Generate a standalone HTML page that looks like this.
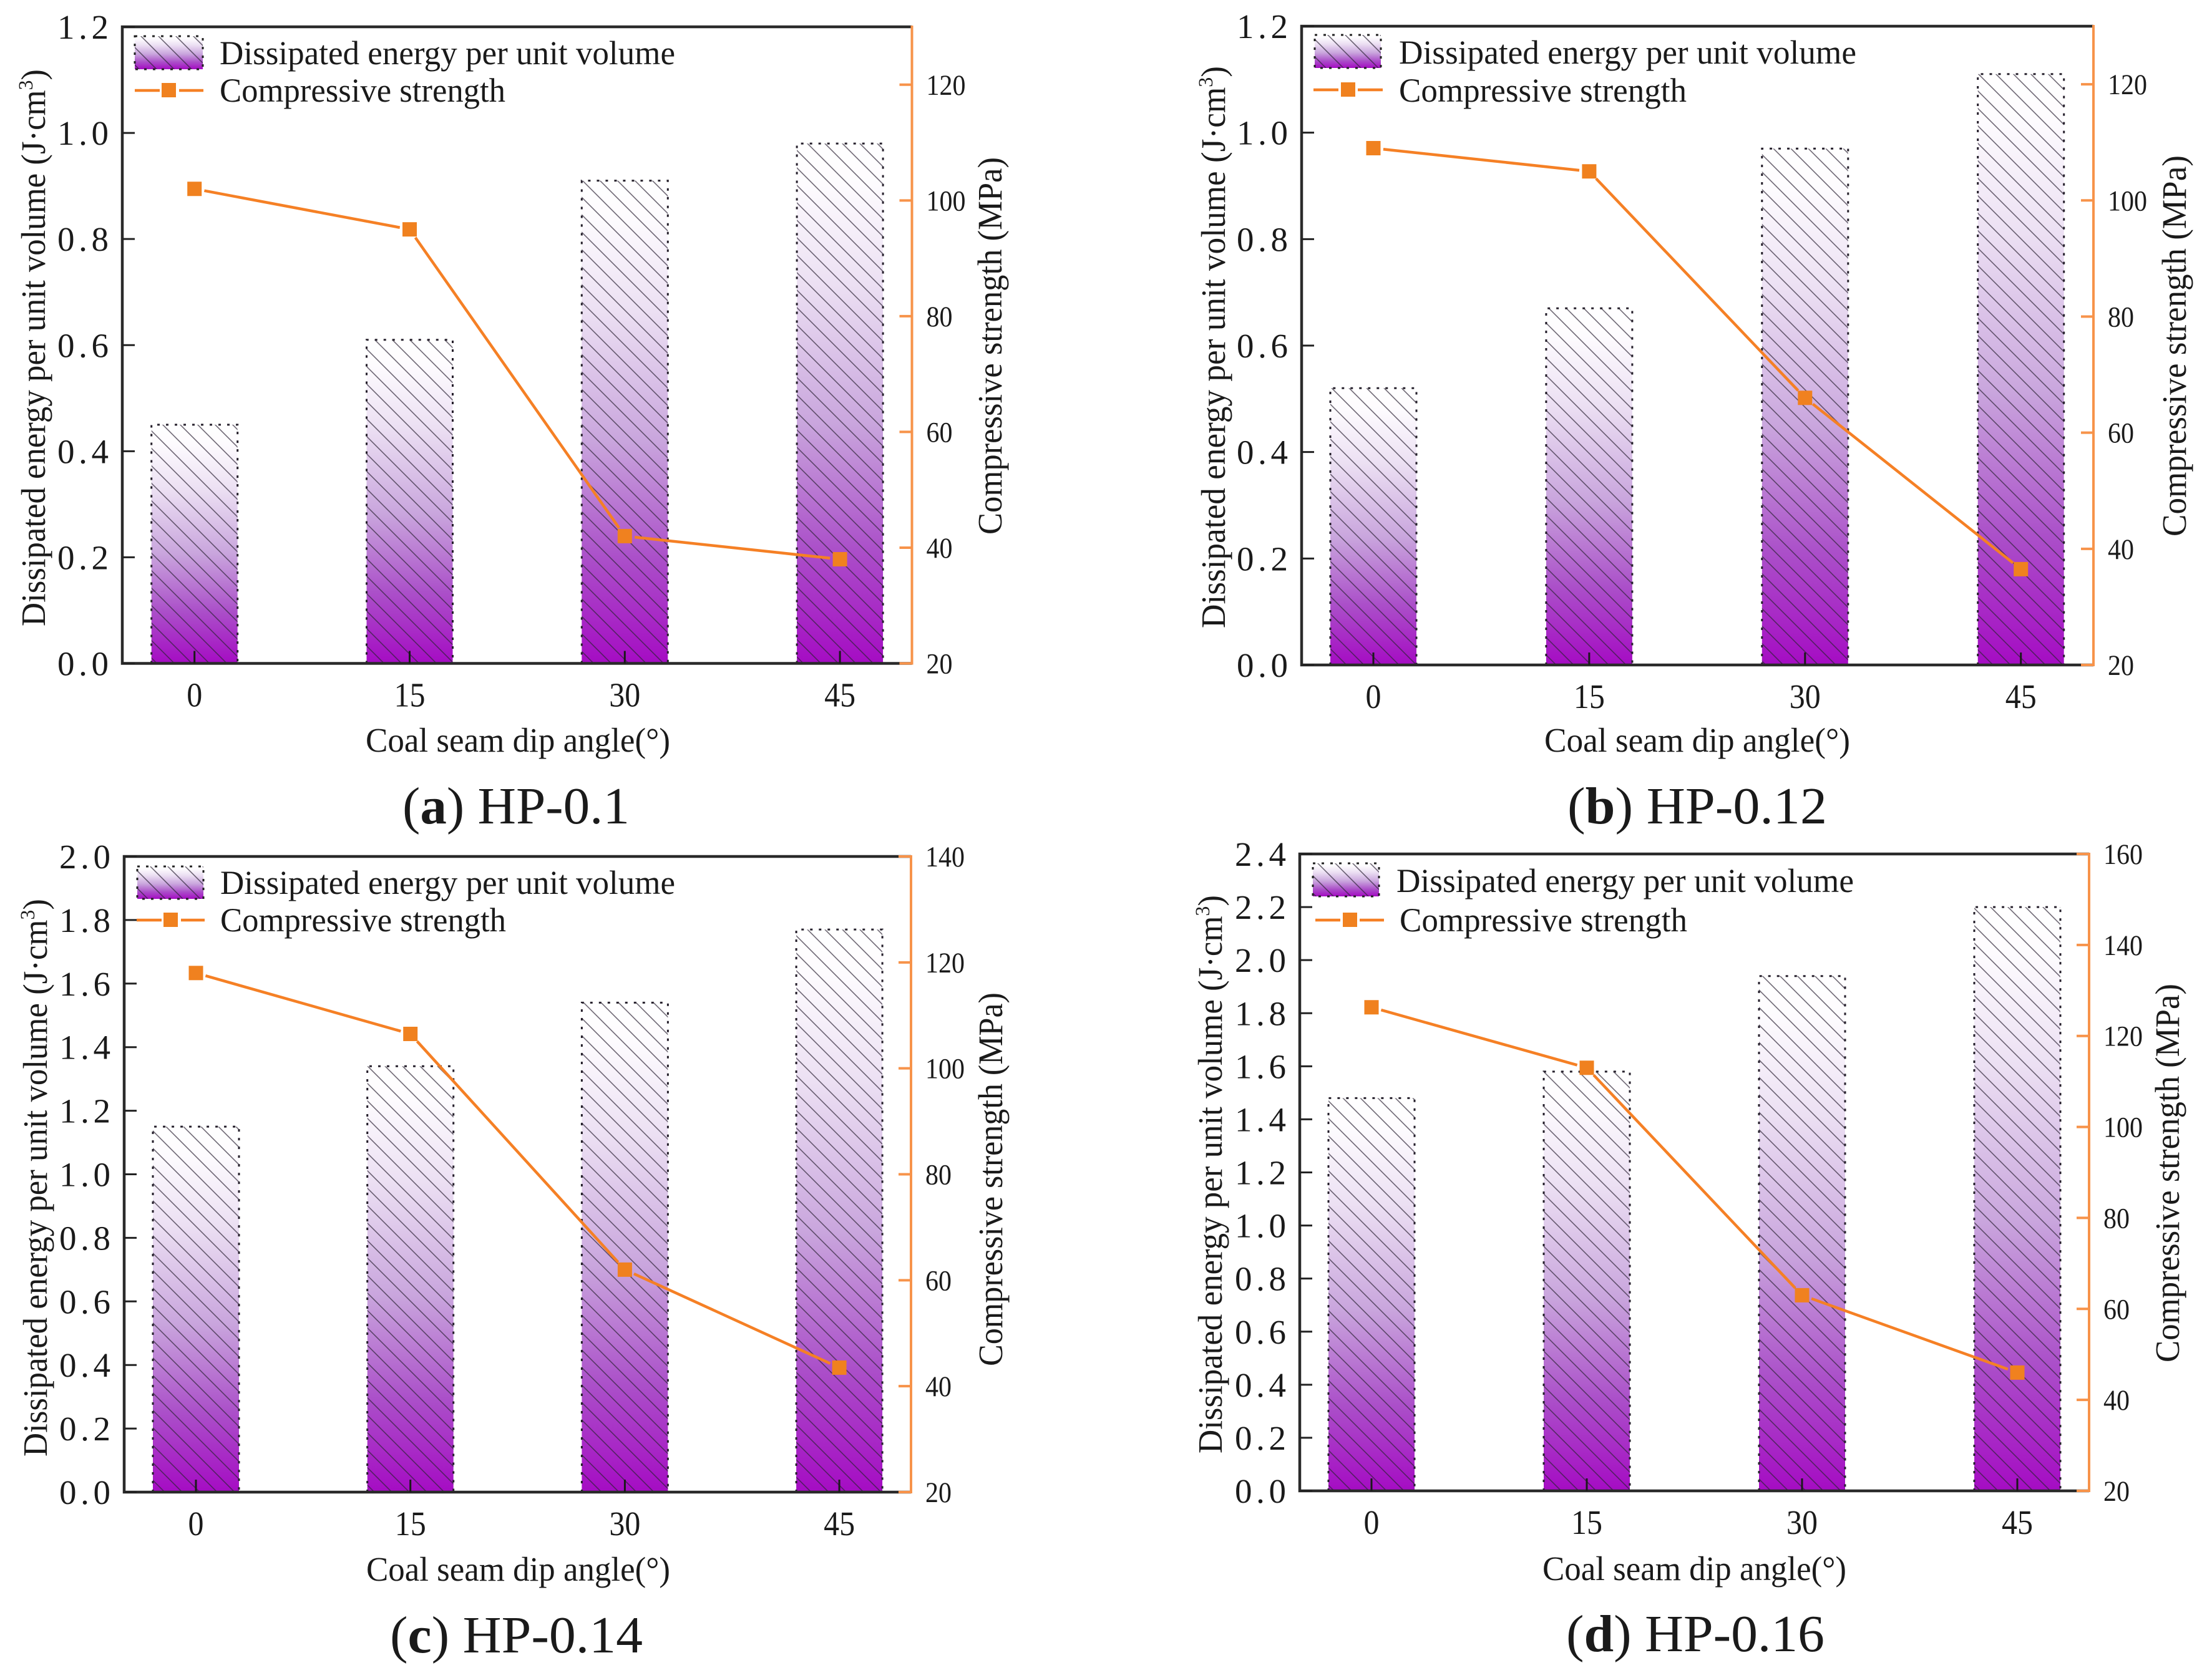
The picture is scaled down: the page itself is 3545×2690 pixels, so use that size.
<!DOCTYPE html>
<html lang="en">
<head>
<meta charset="utf-8">
<title>Dissipated energy and compressive strength vs coal seam dip angle</title>
<style>
html,body{margin:0;padding:0;background:#fff;}
svg{display:block;}
text{font-family:"Liberation Serif","Noto Serif CJK SC",serif;fill:#1a1a1a;}
</style>
</head>
<body>
<svg id="figure" xmlns="http://www.w3.org/2000/svg" width="3545" height="2690" viewBox="0 0 3545 2690">
<defs>
<linearGradient id="barFade" x1="0" y1="1" x2="0" y2="0">
<stop offset="0" stop-color="#a50cc3"/>
<stop offset="0.22" stop-color="#ab50c9"/>
<stop offset="0.46" stop-color="#c9a5dd"/>
<stop offset="0.73" stop-color="#ece0f3"/>
<stop offset="0.92" stop-color="#fdfbfe"/>
<stop offset="1" stop-color="#ffffff"/>
</linearGradient>
<pattern id="hatch" patternUnits="userSpaceOnUse" width="28" height="28">
<path d="M-7 -7 L35 35 M-7 21 L7 35 M21 -7 L35 7" stroke="#2b2233" stroke-opacity="0.68" stroke-width="1.6" fill="none"/>
</pattern>
</defs>
<rect width="3545" height="2690" fill="#ffffff"/>

<g id="panel-a">
<g class="marks"></g>
<g>
<rect x="216" y="58" width="109" height="53" fill="url(#barFade)"/>
<rect x="216" y="58" width="109" height="53" fill="url(#hatch)" stroke="#222" stroke-width="3" stroke-dasharray="4 10"/>
<path d="M216 145H256M287 145H326" stroke="#f58025" stroke-width="4.5" fill="none"/>
<rect x="259" y="133" width="23" height="23" fill="#f0811f"/>
<text x="352" y="103" font-size="54" textLength="730" lengthAdjust="spacingAndGlyphs">Dissipated energy per unit volume</text>
<text x="352" y="163" font-size="54" textLength="458" lengthAdjust="spacingAndGlyphs">Compressive strength</text>
</g>
<text transform="translate(72 1004) rotate(-90)" font-size="55" textLength="893" lengthAdjust="spacingAndGlyphs">Dissipated energy per unit volume (J·cm<tspan dy="-20" font-size="33">3</tspan><tspan dy="20">)</tspan></text>
<text transform="translate(1605 857) rotate(-90)" font-size="55" textLength="605" lengthAdjust="spacingAndGlyphs">Compressive strength (MPa)</text>
<text x="586" y="1205" font-size="55" textLength="488" lengthAdjust="spacingAndGlyphs">Coal seam dip angle(°)</text>
<text x="645" y="1320" font-size="84" textLength="364" lengthAdjust="spacingAndGlyphs">(<tspan font-weight="bold">a</tspan>) HP-0.1</text>
</g>

<g id="panel-b">
<g class="marks"></g>
<g>
<rect x="2107" y="56" width="106" height="53" fill="url(#barFade)"/>
<rect x="2107" y="56" width="106" height="53" fill="url(#hatch)" stroke="#222" stroke-width="3" stroke-dasharray="4 10"/>
<path d="M2105 144H2145M2176 144H2216" stroke="#f58025" stroke-width="4.5" fill="none"/>
<rect x="2149" y="132" width="23" height="23" fill="#f0811f"/>
<text x="2242" y="102" font-size="54" textLength="733" lengthAdjust="spacingAndGlyphs">Dissipated energy per unit volume</text>
<text x="2242" y="163" font-size="54" textLength="461" lengthAdjust="spacingAndGlyphs">Compressive strength</text>
</g>
<text transform="translate(1963 1007) rotate(-90)" font-size="55" textLength="901" lengthAdjust="spacingAndGlyphs">Dissipated energy per unit volume (J·cm<tspan dy="-20" font-size="33">3</tspan><tspan dy="20">)</tspan></text>
<text transform="translate(3503 860) rotate(-90)" font-size="55" textLength="611" lengthAdjust="spacingAndGlyphs">Compressive strength (MPa)</text>
<text x="2475" y="1205" font-size="55" textLength="490" lengthAdjust="spacingAndGlyphs">Coal seam dip angle(°)</text>
<text x="2512" y="1320" font-size="84" textLength="416" lengthAdjust="spacingAndGlyphs">(<tspan font-weight="bold">b</tspan>) HP-0.12</text>
</g>

<g id="panel-c">
<g class="marks"></g>
<g>
<rect x="220" y="1389" width="106" height="52" fill="url(#barFade)"/>
<rect x="220" y="1389" width="106" height="52" fill="url(#hatch)" stroke="#222" stroke-width="3" stroke-dasharray="4 10"/>
<path d="M219 1475H259M290 1475H328" stroke="#f58025" stroke-width="4.5" fill="none"/>
<rect x="262" y="1463" width="23" height="23" fill="#f0811f"/>
<text x="353" y="1433" font-size="54" textLength="729" lengthAdjust="spacingAndGlyphs">Dissipated energy per unit volume</text>
<text x="353" y="1493" font-size="54" textLength="458" lengthAdjust="spacingAndGlyphs">Compressive strength</text>
</g>
<text transform="translate(75 2335) rotate(-90)" font-size="55" textLength="894" lengthAdjust="spacingAndGlyphs">Dissipated energy per unit volume (J·cm<tspan dy="-20" font-size="33">3</tspan><tspan dy="20">)</tspan></text>
<text transform="translate(1606 2190) rotate(-90)" font-size="55" textLength="599" lengthAdjust="spacingAndGlyphs">Compressive strength (MPa)</text>
<text x="587" y="2534" font-size="55" textLength="487" lengthAdjust="spacingAndGlyphs">Coal seam dip angle(°)</text>
<text x="625" y="2649" font-size="84" textLength="405" lengthAdjust="spacingAndGlyphs">(<tspan font-weight="bold">c</tspan>) HP-0.14</text>
</g>

<g id="panel-d">
<g class="marks"></g>
<g>
<rect x="2104" y="1384" width="106" height="53" fill="url(#barFade)"/>
<rect x="2104" y="1384" width="106" height="53" fill="url(#hatch)" stroke="#222" stroke-width="3" stroke-dasharray="4 10"/>
<path d="M2108 1475H2148M2179 1475H2218" stroke="#f58025" stroke-width="4.5" fill="none"/>
<rect x="2152" y="1463" width="23" height="23" fill="#f0811f"/>
<text x="2238" y="1430" font-size="54" textLength="733" lengthAdjust="spacingAndGlyphs">Dissipated energy per unit volume</text>
<text x="2243" y="1493" font-size="54" textLength="461" lengthAdjust="spacingAndGlyphs">Compressive strength</text>
</g>
<text transform="translate(1958 2330) rotate(-90)" font-size="55" textLength="895" lengthAdjust="spacingAndGlyphs">Dissipated energy per unit volume (J·cm<tspan dy="-20" font-size="33">3</tspan><tspan dy="20">)</tspan></text>
<text transform="translate(3492 2184) rotate(-90)" font-size="55" textLength="607" lengthAdjust="spacingAndGlyphs">Compressive strength (MPa)</text>
<text x="2472" y="2533" font-size="55" textLength="487" lengthAdjust="spacingAndGlyphs">Coal seam dip angle(°)</text>
<text x="2510" y="2647" font-size="84" textLength="414" lengthAdjust="spacingAndGlyphs">(<tspan font-weight="bold">d</tspan>) HP-0.16</text>
</g>
</svg>

<script>
const categories = ['0', '15', '30', '45'];

const energyA = [0.45, 0.61, 0.91, 0.98];
const strengthA = [102, 95, 42, 38];
const leftTicksA = [0, 0.2, 0.4, 0.6, 0.8, 1.0, 1.2];
const rightTicksA = [20, 40, 60, 80, 100, 120];
const rightDomainA = [20, 130];

const energyB = [0.52, 0.67, 0.97, 1.11];
const strengthB = [109, 105, 66, 36.5];
const leftTicksB = [0, 0.2, 0.4, 0.6, 0.8, 1.0, 1.2];
const rightTicksB = [20, 40, 60, 80, 100, 120];
const rightDomainB = [20, 130];

const energyC = [1.15, 1.34, 1.54, 1.77];
const strengthC = [118, 106.5, 62, 43.5];
const leftTicksC = [0, 0.2, 0.4, 0.6, 0.8, 1.0, 1.2, 1.4, 1.6, 1.8, 2.0];
const rightTicksC = [20, 40, 60, 80, 100, 120, 140];
const rightDomainC = [20, 140];

const energyD = [1.48, 1.58, 1.94, 2.2];
const strengthD = [126.3, 113, 63, 46];
const leftTicksD = [0, 0.2, 0.4, 0.6, 0.8, 1.0, 1.2, 1.4, 1.6, 1.8, 2.0, 2.2, 2.4];
const rightTicksD = [20, 40, 60, 80, 100, 120, 140, 160];
const rightDomainD = [20, 160];

const panels = [
  {id: 'panel-a', left: 196, right: 1461.5, top: 43, bottom: 1063.5, firstX: 311.7, stepX: 344.8, energy: energyA, strength: strengthA, leftTicks: leftTicksA, rightTicks: rightTicksA, rightDomain: rightDomainA},
  {id: 'panel-b', left: 2086, right: 3355, top: 42, bottom: 1066, firstX: 2201, stepX: 345.9, energy: energyB, strength: strengthB, leftTicks: leftTicksB, rightTicks: rightTicksB, rightDomain: rightDomainB},
  {id: 'panel-c', left: 199, right: 1460, top: 1373, bottom: 2392, firstX: 314, stepX: 343.7, energy: energyC, strength: strengthC, leftTicks: leftTicksC, rightTicks: rightTicksC, rightDomain: rightDomainC},
  {id: 'panel-d', left: 2083, right: 3348, top: 1369, bottom: 2390, firstX: 2198, stepX: 345, energy: energyD, strength: strengthD, leftTicks: leftTicksD, rightTicks: rightTicksD, rightDomain: rightDomainD}
];

const NS = 'http://www.w3.org/2000/svg';
const BAR_W = 138;
const MARK = 23;
const TICK = 20;

function add(parent, tag, attrs, text) {
  const el = document.createElementNS(NS, tag);
  Object.keys(attrs).forEach(function (k) { el.setAttribute(k, attrs[k]); });
  if (text !== undefined) el.textContent = text;
  parent.appendChild(el);
  return el;
}

panels.forEach(function (p) {
  const g = document.querySelector('#' + p.id + ' .marks');
  const leftMax = p.leftTicks[p.leftTicks.length - 1];
  const yL = function (v) { return p.bottom - (v / leftMax) * (p.bottom - p.top); };
  const yR = function (v) {
    return p.bottom - ((v - p.rightDomain[0]) / (p.rightDomain[1] - p.rightDomain[0])) * (p.bottom - p.top);
  };
  const xAt = function (i) { return p.firstX + i * p.stepX; };

  categories.forEach(function (c, i) {
    const x = xAt(i) - BAR_W / 2;
    const y = yL(p.energy[i]);
    const h = p.bottom - y;
    const fill = add(g, 'rect', {x: x, y: y, width: BAR_W, height: h, fill: 'url(#barFade)'});
    
    
    const hatch = add(g, 'rect', {x: x, y: y, width: BAR_W, height: h, fill: 'url(#hatch)'});
    
    
    const edge = add(g, 'path', {d: 'M' + x + ' ' + p.bottom + 'V' + y + 'H' + (x + BAR_W) + 'V' + p.bottom, fill: 'none', stroke: '#26202c', 'stroke-width': 3, 'stroke-dasharray': '4 10'});
    
    
  });

  const spines = add(g, 'path', {d: 'M' + p.right + ' ' + p.top + 'H' + p.left + 'V' + p.bottom + 'H' + p.right, fill: 'none', stroke: '#2a2a2a', 'stroke-width': 4.5});
  
  

  const rightSpine = add(g, 'line', {x1: p.right, x2: p.right, y1: p.top - 2, y2: p.bottom + 2, stroke: '#f7934a', 'stroke-width': 4});
  
  

  p.leftTicks.forEach(function (v) {
    const y = yL(v);
    const t = add(g, 'line', {x1: p.left, x2: p.left + TICK, y1: y, y2: y, stroke: '#222', 'stroke-width': 3});
    
    
    const l = add(g, 'text', {x: p.left - 22, y: y + 19, 'font-size': 55, 'text-anchor': 'end', textLength: 82, lengthAdjust: 'spacing'}, v.toFixed(1));
    
    
  });

  p.rightTicks.forEach(function (v) {
    const y = yR(v);
    const t = add(g, 'line', {x1: p.right - TICK, x2: p.right, y1: y, y2: y, stroke: '#f7934a', 'stroke-width': 4});
    
    
    const s = String(v);
    const l = add(g, 'text', {x: p.right + 23, y: y + 16, 'font-size': 47, fill: '#333', textLength: 21 * s.length, lengthAdjust: 'spacingAndGlyphs'}, s);
    
    
  });

  categories.forEach(function (c, i) {
    const x = xAt(i);
    const t = add(g, 'line', {x1: x, x2: x, y1: p.bottom, y2: p.bottom - TICK, stroke: '#1a1a1a', 'stroke-width': 3});
    
    
    const l = add(g, 'text', {x: x, y: p.bottom + 69, 'font-size': 55, 'text-anchor': 'middle', textLength: 25 * c.length, lengthAdjust: 'spacingAndGlyphs'}, c);
    
    
  });

  for (let i = 0; i < categories.length - 1; i++) {
    const x1 = xAt(i), y1 = yR(p.strength[i]);
    const x2 = xAt(i + 1), y2 = yR(p.strength[i + 1]);
    const len = Math.hypot(x2 - x1, y2 - y1);
    const ux = (x2 - x1) / len, uy = (y2 - y1) / len;
    const gap = 16;
    const seg = add(g, 'line', {x1: x1 + ux * gap, y1: y1 + uy * gap, x2: x2 - ux * gap, y2: y2 - uy * gap, stroke: '#f58025', 'stroke-width': 4.5});
    
    
  }
  categories.forEach(function (c, i) {
    const m = add(g, 'rect', {x: xAt(i) - MARK / 2, y: yR(p.strength[i]) - MARK / 2, width: MARK, height: MARK, fill: '#f0811f'});
    
    
  });
});
</script>
</body>
</html>
